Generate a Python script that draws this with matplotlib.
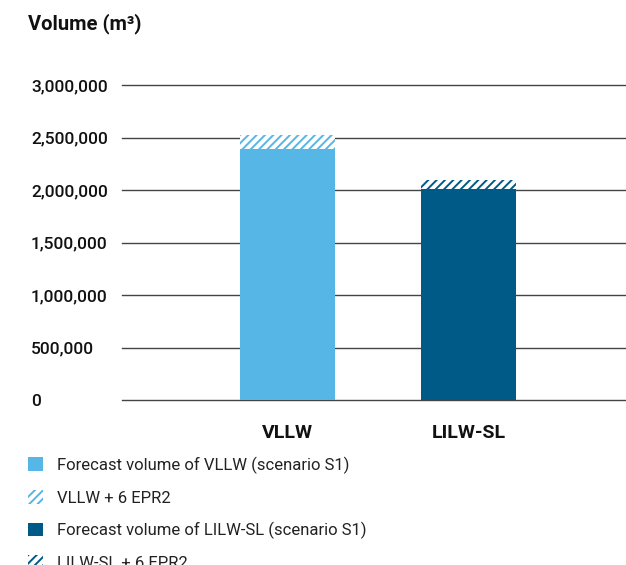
import matplotlib
matplotlib.use('Agg')
import matplotlib.pyplot as plt
from matplotlib.patches import Patch
from matplotlib.ticker import FuncFormatter

plt.rcParams['font.family'] = ['Roboto', 'DejaVu Sans']
plt.rcParams['hatch.linewidth'] = 1.4

# data
categories = ['VLLW', 'LILW-SL']
forecast_s1 = [2390000, 2010000]
epr2_extra = [130000, 90000]
yticks = [0, 500000, 1000000, 1500000, 2000000, 2500000, 3000000]

colors = ['#56b6e6', '#005a87']
legend_labels = ['Forecast volume of VLLW (scenario S1)', 'VLLW + 6 EPR2',
                 'Forecast volume of LILW-SL (scenario S1)', 'LILW-SL + 6 EPR2']

fig = plt.figure(figsize=(6.26, 5.65), dpi=100)
ax = fig.add_axes([0.195, 0.292, 0.805, 0.576])

x = list(range(len(categories)))
ax.bar(x, forecast_s1, width=0.525, color=colors, linewidth=0, zorder=3)
for i in x:
    ax.bar(i, epr2_extra[i], bottom=forecast_s1[i], width=0.525,
           facecolor='white', edgecolor=colors[i], linewidth=0,
           hatch='////', zorder=3)

ax.set_xlim(-0.914, 1.87)
ax.set_ylim(0, 3100000)
ax.set_yticks(yticks)
ax.yaxis.set_major_formatter(FuncFormatter(lambda v, p: f'{int(v):,}'))
ax.set_xticks(x)
ax.set_xticklabels(categories, fontsize=14, fontweight='bold', color='#111111')
ax.tick_params(axis='x', length=0, pad=17)
# labels are left aligned in the original
ax.tick_params(axis='y', length=0, pad=65.5, labelsize=12.5, labelcolor='#111111')
for lab in ax.get_yticklabels():
    lab.set_fontweight('medium')
    lab.set_horizontalalignment('left')
    lab.set_verticalalignment('center_baseline')
ax.grid(axis='y', color='#444444', linewidth=1.0, zorder=1)
for gl in ax.get_ygridlines():
    gl.set_clip_on(False)
for s in ax.spines.values():
    s.set_visible(False)

fig.text(0.045, 0.958, 'Volume (m³)', fontsize=14.5, fontweight='bold',
         color='#111111', va='center')

handles = [Patch(facecolor=colors[0], linewidth=0),
           Patch(facecolor='white', edgecolor=colors[0], linewidth=0, hatch='////'),
           Patch(facecolor=colors[1], linewidth=0),
           Patch(facecolor='white', edgecolor=colors[1], linewidth=0, hatch='////')]
fig.legend(handles, legend_labels, loc='upper left', bbox_to_anchor=(0.045, 0.192),
           frameon=False, fontsize=12, borderpad=0, borderaxespad=0,
           handlelength=0.9, handleheight=0.9, handletextpad=0.8,
           labelspacing=0.97, labelcolor='#222222')

fig.savefig('out.png', dpi=100)
